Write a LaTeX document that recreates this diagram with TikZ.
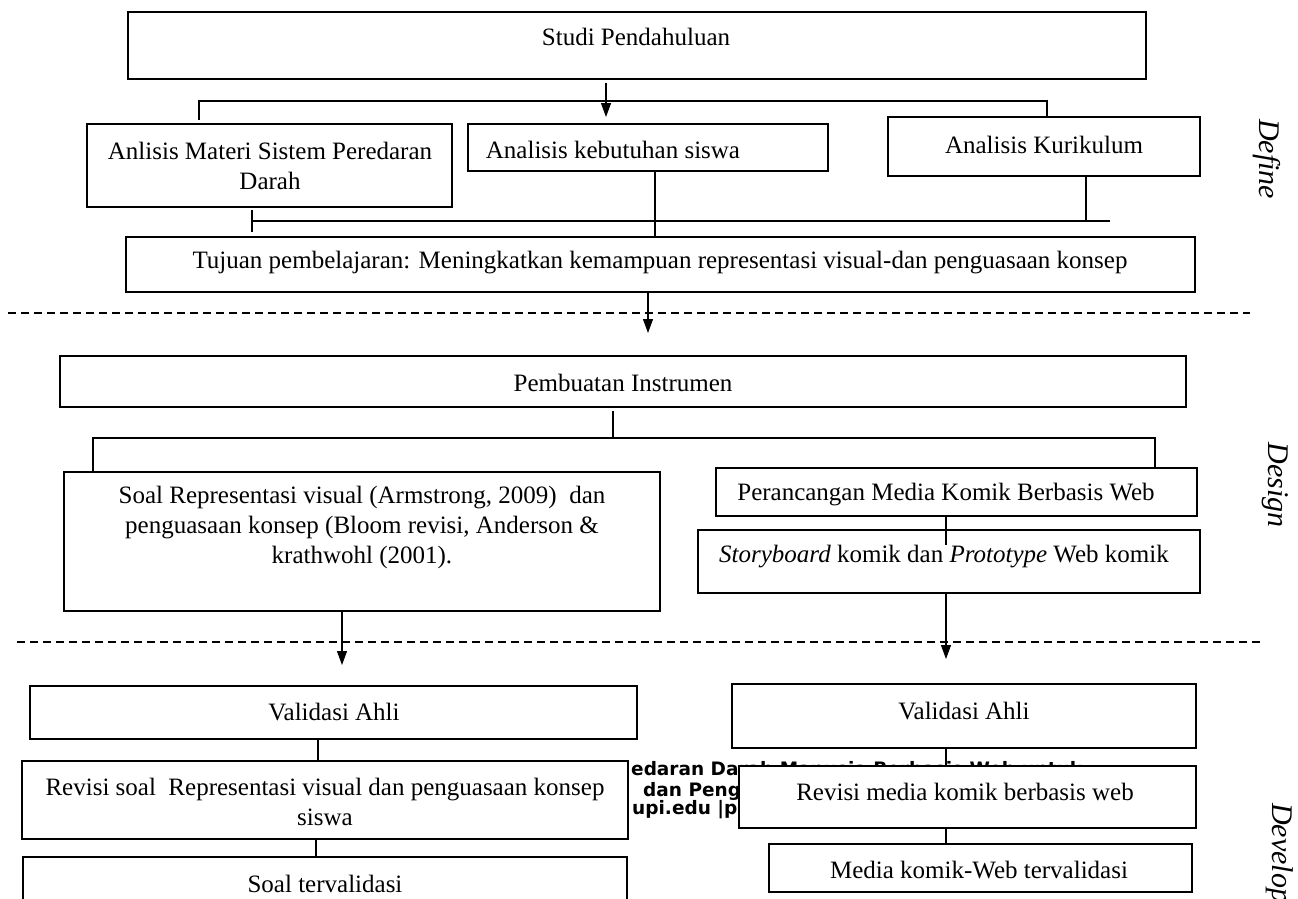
\documentclass[tikz,border=0pt]{standalone}
\usepackage{fontspec}
\setmainfont{Liberation Serif}
\newfontfamily\footfont{DejaVu Sans}
\usetikzlibrary{arrows.meta}
\begin{document}
\begin{tikzpicture}[x=1pt,y=-1pt,
 box/.style={draw, line width=1.3pt, fill=white, inner sep=0pt},
 txt/.style={font=\fontsize{25}{30}\selectfont, align=center, inner sep=0pt},
 lbl/.style={font=\fontsize{30}{34}\selectfont\itshape, rotate=-90, inner sep=0pt},
 conn/.style={line width=1.1pt},
 arr/.style={conn, -{Triangle[length=14pt,width=10pt]}},
 sepline/.style={line width=1.3pt, dash pattern=on 8pt off 5pt},
 foot/.style={font=\footfont\bfseries\fontsize{18.5}{20}\selectfont, inner sep=0pt}]
\useasboundingbox (0,0) rectangle (1298,898);
\clip (0,0) rectangle (1298,898);
\fill[white] (0,0) rectangle (1298,898);
\newcommand{\mybox}[5]{\node[box,minimum width={#4-#2},minimum height={#5-#3}] (#1) at ({(#2+#4)/2},{(#3+#5)/2}) {};}
% footer text behind boxes
\node[foot, anchor=west] (f1b) at (631,769) {edaran Darah Manusia Berbasis Web untuk};
\node[foot, anchor=west] (f2) at (643,791) {dan Pengu};
\node[foot, anchor=west] (f3) at (632,810) {upi.edu |p};
% boxes
\mybox{Studi}{128}{12}{1146}{79}
\mybox{Anlisis}{87}{124}{452}{207}
\mybox{Kebutuhan}{468}{124}{828}{171}
\mybox{Kurikulum}{888}{117}{1200}{176}
\mybox{Tujuan}{126}{237}{1195}{292}
\mybox{Pembuatan}{60}{356}{1186}{407}
\mybox{Soal}{64}{472}{660}{611}
\mybox{Perancangan}{716}{468}{1197}{516}
\mybox{Storyboard}{698}{530}{1200}{593}
\mybox{ValL}{30}{686}{637}{739}
\mybox{ValR}{732}{684}{1196}{748}
\mybox{RevS}{22}{761}{628}{839}
\mybox{RevM}{739}{766}{1196}{828}
\mybox{SoalT}{23}{857}{627}{930}
\mybox{MediaT}{769}{844}{1192}{892}
% texts
\node[txt] (tStudi) at (636,37) {Studi Pendahuluan};
\node[txt] (tAnlisis) at (270,166) {Anlisis Materi Sistem Peredaran\\Darah};
\node[txt] (tKebutuhan) at (613,150) {Analisis kebutuhan siswa};
\node[txt] (tKurikulum) at (1044,145) {Analisis Kurikulum};
\node[txt] (tTujuan) at (660,263) {Tujuan pembelajaran: Meningkatkan kemampuan representasi visual-dan penguasaan konsep};
\node[txt] (tPembuatan) at (623,383) {Pembuatan Instrumen};
\node[txt] (tSoal) at (362,527) {Soal Representasi visual (Armstrong, 2009)\ \ dan\\penguasaan konsep (Bloom revisi, Anderson \&\\krathwohl (2001).};
\node[txt] (tPerancangan) at (946,495) {Perancangan Media Komik Berbasis Web};
\node[txt] (tStoryboard) at (944,557) {\textit{Storyboard} komik dan \textit{Prototype} Web komik};
\node[txt] (tValL) at (334,712) {Validasi Ahli};
\node[txt] (tValR) at (964,711) {Validasi Ahli};
\node[txt] (tRevS) at (325,802) {Revisi soal\ \ Representasi visual dan penguasaan konsep\\siswa};
\node[txt] (tRevM) at (965,792) {Revisi media komik berbasis web};
\node[txt] (tSoalT) at (325,884) {Soal tervalidasi};
\node[txt] (tMediaT) at (979,870) {Media komik-Web tervalidasi};
% phase labels
\node[lbl] (lDefine) at (1267,159) {Define};
\node[lbl] (lDesign) at (1275,485) {Design};
\node[lbl, anchor=west] (lDevelop) at (1280,803) {Develop};
% dashed separators
\coordinate (d1a) at (8,313); \coordinate (d1b) at (1250,313);
\coordinate (d2a) at (17,642); \coordinate (d2b) at (1262,642);
\draw[sepline] (d1a) -- (d1b);
\draw[sepline] (d2a) -- (d2b);
% connectors define
\coordinate (c1) at (606,117);
\draw[arr] ([yshift=-3pt]Studi.south -| c1) -- (c1);
\coordinate (b1) at (199,120); \coordinate (b2) at (199,101); \coordinate (b3) at (1047,101);
\draw[conn] (b1) -- (b2) -- (b3) -- (b3 |- Kurikulum.north);
\coordinate (t1) at (252,210); \coordinate (t2) at (252,232);
\draw[conn] (t1) -- (t2);
\coordinate (h1) at (251,221); \coordinate (h2) at (1110,221);
\draw[conn] (h1) -- (h2);
\coordinate (k1) at (655,0);
\draw[conn] (Kebutuhan.south -| k1) -- (Tujuan.north -| k1);
\coordinate (k2) at (1086,221);
\draw[conn] (Kurikulum.south -| k2) -- (k2);
\coordinate (a2) at (648,333);
\draw[arr] (Tujuan.south -| a2) -- (a2);
% connectors design
\coordinate (p1) at (613,438); \coordinate (p2) at (93,438); \coordinate (p3) at (1155,438);
\draw[conn] ([yshift=-3pt]Pembuatan.south -| p1) -- (p1);
\draw[conn] (Soal.north -| p2) -- (p2) -- (p3) -- (Perancangan.north -| p3);
\coordinate (s1) at (946,545);
\draw[conn] (Perancangan.south -| s1) -- (s1);
\coordinate (a3) at (946,659);
\draw[arr] (Storyboard.south -| a3) -- (a3);
\coordinate (a4) at (342,665);
\draw[arr] (Soal.south -| a4) -- (a4);
% connectors develop
\coordinate (v1) at (318,0); \coordinate (v2) at (316,0); \coordinate (v3) at (946,0);
\draw[conn] (ValL.south -| v1) -- (RevS.north -| v1);
\draw[conn] (RevS.south -| v2) -- (SoalT.north -| v2);
\draw[conn] (ValR.south -| v3) -- (RevM.north -| v3);
\draw[conn] (RevM.south -| v3) -- (MediaT.north -| v3);
\end{tikzpicture}
\end{document}
